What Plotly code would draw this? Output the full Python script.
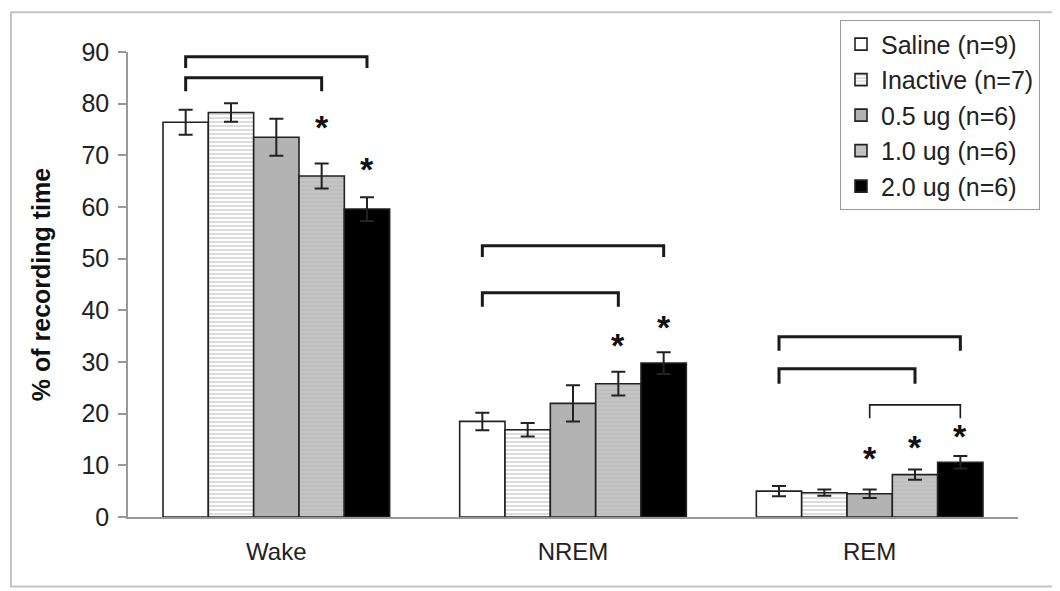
import plotly.graph_objects as go

# ---- data ----
categories = ["Wake", "NREM", "REM"]
series_names = ["Saline (n=9)", "Inactive (n=7)", "0.5 ug (n=6)", "1.0 ug (n=6)", "2.0 ug (n=6)"]
saline = [76.4, 18.5, 5.0]
saline_err = [2.4, 1.7, 1.0]
inactive = [78.3, 16.9, 4.7]
inactive_err = [1.8, 1.3, 0.6]
ug05 = [73.5, 22.0, 4.5]
ug05_err = [3.6, 3.5, 0.8]
ug10 = [66.0, 25.8, 8.2]
ug10_err = [2.4, 2.3, 1.0]
ug20 = [59.6, 29.8, 10.6]
ug20_err = [2.3, 2.1, 1.2]
y_ticks = [0, 10, 20, 30, 40, 50, 60, 70, 80, 90]

# significance brackets: (category index, from series, to series, top value, tick-bottom value)
brackets_main = [
    (0, 0, 4, 89.1, 86.9), (0, 0, 3, 85.0, 82.4),
    (1, 0, 4, 52.5, 50.3), (1, 0, 3, 43.4, 40.7),
    (2, 0, 4, 34.9, 32.2), (2, 0, 3, 28.7, 25.8),
]
brackets_thin = [(2, 2, 4, 21.7, 19.1)]
# asterisks: (category index, series index, value)
asterisks = [(0, 3, 75.6), (0, 4, 67.6), (1, 3, 33.4), (1, 4, 36.9),
             (2, 2, 11.6), (2, 3, 13.8), (2, 4, 15.9)]

values = [saline, inactive, ug05, ug10, ug20]
errors = [saline_err, inactive_err, ug05_err, ug10_err, ug20_err]

FONT = "Liberation Sans, Arial, sans-serif"
BARGAP = 0.236
N = len(series_names)
bw = (1 - BARGAP) / N


def bar_x(cat, s):
    return cat - (1 - BARGAP) / 2 + (s + 0.5) * bw


styles = [
    dict(color="white"),
    dict(color="white", pattern=dict(shape="-", fgcolor="#a8a8a8", bgcolor="white", size=4, solidity=0.4)),
    dict(color="#b3b3b3"),
    dict(color="#c0c0c0", pattern=dict(shape="-", fgcolor="#b2b2b2", bgcolor="#c4c4c4", size=4, solidity=0.35)),
    dict(color="black"),
]

fig = go.Figure()
xs = list(range(len(categories)))
for i in range(N):
    m = dict(styles[i])
    m["line"] = dict(color="#222222", width=1.6)
    fig.add_trace(go.Bar(
        x=xs, y=values[i], name=series_names[i], marker=m,
        error_y=dict(type="data", array=errors[i], visible=True, color="#222222", thickness=2, width=7),
    ))

shapes = []
for blist, lw in ((brackets_main, 3), (brackets_thin, 1.6)):
    for cat, a, b, top, bot in blist:
        x0, x1 = bar_x(cat, a), bar_x(cat, b)
        shapes.append(dict(type="path", xref="x", yref="y",
                           path=f"M {x0},{bot} L {x0},{top} L {x1},{top} L {x1},{bot}",
                           line=dict(color="#1a1a1a", width=lw)))
# outer frame
shapes.append(dict(type="rect", xref="paper", yref="paper",
                   x0=-0.1315, x1=1.0416, y0=-0.1493, y1=1.0853,
                   line=dict(color="#c4c4c4", width=2)))

annotations = []
for cat, s, v in asterisks:
    annotations.append(dict(x=bar_x(cat, s), y=v, xref="x", yref="y", text="<b>*</b>",
                            showarrow=False, yshift=-1,
                            font=dict(family=FONT, size=34, color="#111111")))

fig.update_layout(
    width=1052, height=583,
    margin=dict(l=120, r=42, t=40, b=74),
    paper_bgcolor="white", plot_bgcolor="white",
    barmode="group", bargap=BARGAP, bargroupgap=0,
    font=dict(family=FONT, size=24, color="#222222"),
    shapes=shapes, annotations=annotations,
    legend=dict(x=0.8, y=1.068, xanchor="left", yanchor="top",
                bordercolor="#999999", borderwidth=1, bgcolor="white",
                font=dict(family=FONT, size=25, color="#222222"),
                itemwidth=30, tracegroupgap=0),
    showlegend=True,
)
fig.update_xaxes(range=[-0.5, 2.5], tickvals=xs, ticktext=categories,
                 showline=True, linecolor="#999999", linewidth=1.5,
                 ticks="", showgrid=False, zeroline=False,
                 ticklabelstandoff=12, tickfont=dict(size=24))
fig.update_yaxes(range=[0, 90], tickvals=y_ticks, showline=True, linecolor="#999999", linewidth=1.5,
                 ticks="outside", ticklen=8, tickcolor="#999999", tickwidth=1.5,
                 showgrid=False, zeroline=False, ticklabelstandoff=4,
                 tickfont=dict(size=25),
                 title=dict(text="<b>% of recording time</b>", font=dict(size=25, color="#111111"), standoff=24))

fig.write_html("out.html")
